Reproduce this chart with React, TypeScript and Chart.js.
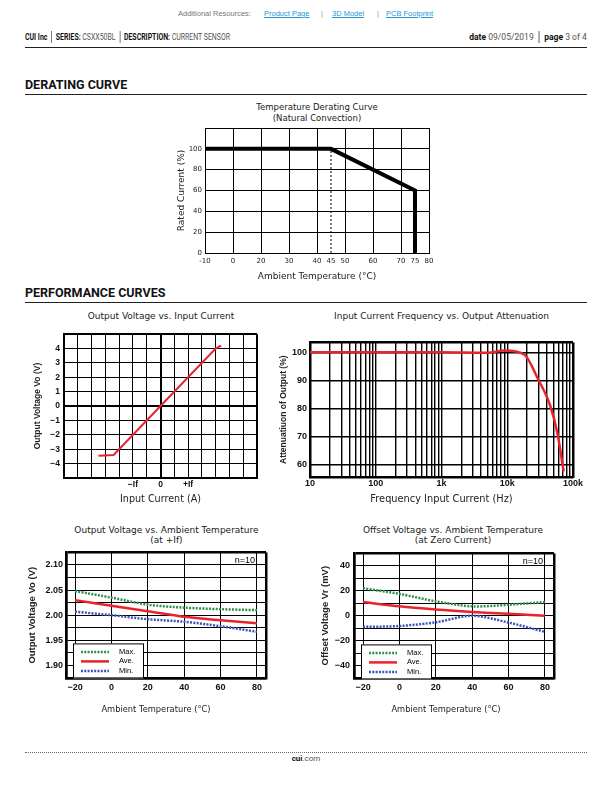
import React, { useEffect, useRef } from 'react';
import { Chart, registerables } from 'chart.js';

Chart.register(...registerables);

// ---------------- data ----------------
// Temperature derating curve
const DERATING_TEMP = [-10, 45, 75, 75];
const DERATING_CURRENT = [100, 100, 60, 0];
const DERATING_KNEE_TEMP = [45, 45];
const DERATING_KNEE_CURRENT = [0, 100];
const DERATING_GRID_X = [-10, 0, 20, 30, 40, 50, 60, 70, 80];
const DERATING_TICKS_X = [-10, 0, 20, 30, 40, 45, 50, 60, 70, 75, 80];
const DERATING_TICKS_Y = [0, 20, 40, 60, 80, 100, 120];

// Output voltage vs input current (x in grid units, If = 2)
const IC_CURRENT = [-4.5, -3.4, 0, 4.0, 4.4];
const IC_VOLTAGE = [-3.45, -3.4, 0, 4.0, 4.2];
const IC_TICKS_X = [-7, -6, -5, -4, -3, -2, -1, 0, 1, 2, 3, 4, 5, 6, 7];
const IC_TICKS_Y = [-5, -4, -3, -2, -1, 0, 1, 2, 3, 4, 5];
const IC_LABELS_X: Record<string, string> = { '-2': '\u2212If', '0': '0', '2': '+If' };

// Input current frequency vs output attenuation
const FREQ_HZ = [10, 100, 1000, 5000, 9000, 18000, 30000, 45000, 58000, 72000];
const ATTEN_PCT = [100, 100, 100, 99.8, 100.6, 99.2, 90, 81, 71, 57.5];
const FREQ_DECADES = [10, 100, 1000, 10000];
const FREQ_MULT = [1, 2, 3, 4, 5, 6, 7, 8, 9];
const FREQ_LABELS: Record<string, string> = { '10': '10', '100': '100', '1000': '1k', '10000': '10k', '100000': '100k' };
const ATTEN_TICKS = [55.5, 60, 70, 80, 90, 100, 103.5];

// Output voltage / offset voltage vs ambient temperature
const TEMP_C = [-20, 0, 20, 40, 60, 80];
const VO_MAX = [2.048, 2.035, 2.021, 2.015, 2.012, 2.010];
const VO_AVE = [2.030, 2.019, 2.008, 1.997, 1.990, 1.984];
const VO_MIN = [2.007, 2.000, 1.992, 1.987, 1.978, 1.967];
const VR_MAX = [22, 17.5, 11.5, 7.5, 8.8, 11];
const VR_AVE = [11, 7.5, 5, 3, 1.5, 0];
const VR_MIN = [-9, -8.3, -5.3, 0, -5.5, -13];
const TEMP_TICKS = [-25, -20, 0, 20, 40, 60, 80, 85];
const VO_TICKS = [1.875, 1.9, 1.925, 1.95, 1.975, 2.0, 2.025, 2.05, 2.075, 2.1, 2.125];
const VO_LABELS = [1.9, 1.95, 2.0, 2.05, 2.1];
const VR_TICKS = [-50, -40, -30, -20, -10, 0, 10, 20, 30, 40, 50];
const VR_LABELS = [-40, -20, 0, 20, 40];
const SERIES_NAMES = ['Max.', 'Ave.', 'Min.'];

// ---------------- styles ----------------
const FONT_V = '"DejaVu Sans", Verdana, sans-serif';
const FONT_A = '"Liberation Sans", Arial, Helvetica, sans-serif';
const FONT_H = 'Roboto, "Liberation Sans", sans-serif';
const RED = '#e8232b';
const GREEN = '#2f8f48';
const BLUE = '#3a55b8';

type Rect = { l: number; t: number; r: number; b: number };
type Box = { x: number; y: number; w: number; h: number };

const fmtMinus = (v: number) => (v < 0 ? '\u2212' + Math.abs(v) : String(v));

function frame(p: Rect, c: Box) {
  return {
    padding: { top: p.t - c.y, right: c.x + c.w - p.r, left: 0, bottom: 0 },
    yW: p.l - c.x,
    xH: c.y + c.h - p.b,
  };
}

const setTicks = (values: number[]) => (s: any) => {
  s.ticks = values.map((value) => ({ value }));
};

function segmentPixel(scale: any, grid: number[], v: number) {
  const n = grid.length - 1;
  let i = 0;
  while (i < n - 1 && v > grid[i + 1]) i++;
  const u = i + (v - grid[i]) / (grid[i + 1] - grid[i]);
  return scale.left + (u / n) * scale.width;
}

function baseOptions(padding: any) {
  return {
    responsive: false,
    animation: false,
    events: [],
    layout: { padding },
    plugins: { legend: { display: false }, title: { display: false }, tooltip: { enabled: false } },
  };
}

const pts = (xs: number[], ys: number[]) => xs.map((x, i) => ({ x, y: ys[i] }));

// ---------------- chart 1: derating ----------------
const P1: Rect = { l: 205, t: 128, r: 429, b: 253 };
const C1: Box = { x: 176, y: 118, w: 270, h: 164 };

function deratingConfig(): any {
  const f = frame(P1, C1);
  return {
    type: 'line',
    data: {
      datasets: [
        { data: pts(DERATING_TEMP, DERATING_CURRENT), borderColor: '#000', borderWidth: 4, pointRadius: 0, borderJoinStyle: 'miter', borderCapStyle: 'butt' },
        { data: pts(DERATING_KNEE_TEMP, DERATING_KNEE_CURRENT), borderColor: '#000', borderWidth: 1, borderDash: [2, 2], pointRadius: 0 },
      ],
    },
    options: {
      ...baseOptions(f.padding),
      scales: {
        x: {
          type: 'linear', min: -10, max: 80,
          afterBuildTicks: (s: any) => {
            setTicks(DERATING_TICKS_X)(s);
            s.getPixelForValue = (v: number) => segmentPixel(s, DERATING_GRID_X, v);
          },
          afterFit: (s: any) => { s.height = f.xH; },
          grid: { drawTicks: false, lineWidth: 1, color: (c: any) => (c.tick && DERATING_GRID_X.includes(c.tick.value) ? '#000' : 'rgba(0,0,0,0)') },
          border: { color: '#000', width: 1 },
          ticks: { autoSkip: false, maxRotation: 0, padding: 4, color: '#222', font: { family: FONT_V, size: 7 }, callback: (v: number) => String(v) },
          title: { display: true, text: 'Ambient Temperature (\u00b0C)', padding: 0, color: '#222', font: { family: FONT_V, size: 9 } },
        },
        y: {
          type: 'linear', min: 0, max: 120,
          afterBuildTicks: setTicks(DERATING_TICKS_Y),
          afterFit: (s: any) => { s.width = f.yW; },
          grid: { drawTicks: false, color: '#000', lineWidth: 1 },
          border: { color: '#000', width: 1 },
          ticks: { autoSkip: false, padding: 3, color: '#222', font: { family: FONT_V, size: 7 }, callback: (v: number) => (v === 120 ? '' : String(v)) },
          title: { display: true, text: 'Rated Current (%)', padding: 0, color: '#222', font: { family: FONT_V, size: 9 } },
        },
      },
    },
  };
}

// ---------------- chart 2: Vo vs input current ----------------
const P2: Rect = { l: 64, t: 333, r: 257, b: 478 };
const C2: Box = { x: 33, y: 325, w: 240, h: 180 };

function currentConfig(): any {
  const f = frame(P2, C2);
  const thick = (edges: number[]) => (c: any) => (c.tick && edges.includes(c.tick.value) ? 2 : 1);
  return {
    type: 'line',
    data: { datasets: [{ data: pts(IC_CURRENT, IC_VOLTAGE), borderColor: RED, borderWidth: 2, pointRadius: 0 }] },
    options: {
      ...baseOptions(f.padding),
      scales: {
        x: {
          type: 'linear', min: -7, max: 7,
          afterBuildTicks: setTicks(IC_TICKS_X),
          afterFit: (s: any) => { s.height = f.xH; },
          grid: { drawTicks: false, color: '#000', lineWidth: thick([-7, 0, 7]) },
          border: { color: '#000', width: 2 },
          ticks: { autoSkip: false, maxRotation: 0, padding: 2, color: '#111', font: { family: FONT_A, size: 8.5, weight: 'bold' }, callback: (v: number) => IC_LABELS_X[String(v)] ?? '' },
          title: { display: true, text: 'Input Current (A)', padding: 0, color: '#222', font: { family: FONT_V, size: 9.6 } },
        },
        y: {
          type: 'linear', min: -5, max: 5,
          afterBuildTicks: setTicks(IC_TICKS_Y),
          afterFit: (s: any) => { s.width = f.yW; },
          grid: { drawTicks: false, color: '#000', lineWidth: thick([-5, 0, 5]) },
          border: { color: '#000', width: 2 },
          ticks: { autoSkip: false, padding: 4, color: '#111', font: { family: FONT_A, size: 8.5, weight: 'bold' }, callback: (v: number) => (Math.abs(v) === 5 ? '' : fmtMinus(v)) },
          title: { display: true, text: 'Output Voltage Vo (V)', padding: 0, color: '#222', font: { family: FONT_A, size: 8.5, weight: 'bold' } },
        },
      },
    },
  };
}

// ---------------- chart 3: frequency ----------------
const P3: Rect = { l: 310, t: 342, r: 573, b: 477 };
const C3: Box = { x: 279, y: 334, w: 321, h: 171 };

function frequencyConfig(): any {
  const f = frame(P3, C3);
  const freqGrid = FREQ_DECADES.flatMap((d) => FREQ_MULT.map((m) => m * d)).concat([100000]);
  return {
    type: 'line',
    data: { datasets: [{ data: pts(FREQ_HZ, ATTEN_PCT), borderColor: RED, borderWidth: 2.5, pointRadius: 0, cubicInterpolationMode: 'monotone' }] },
    options: {
      ...baseOptions(f.padding),
      scales: {
        x: {
          type: 'logarithmic', min: 10, max: 100000,
          afterBuildTicks: setTicks(freqGrid),
          afterFit: (s: any) => { s.height = f.xH; },
          grid: { drawTicks: false, color: '#000', lineWidth: (c: any) => (c.tick && (c.tick.value === 10 || c.tick.value === 100000) ? 2.5 : 1.4) },
          border: { color: '#000', width: 2 },
          ticks: { autoSkip: false, maxRotation: 0, padding: 1, color: '#111', font: { family: FONT_A, size: 9, weight: 'bold' }, callback: (v: number) => FREQ_LABELS[String(v)] ?? '' },
          title: { display: true, text: 'Frequency Input Current (Hz)', padding: 0, color: '#222', font: { family: FONT_V, size: 9.8 } },
        },
        y: {
          type: 'linear', min: 55.5, max: 103.5,
          afterBuildTicks: setTicks(ATTEN_TICKS),
          afterFit: (s: any) => { s.width = f.yW; },
          grid: { drawTicks: false, color: '#000', lineWidth: (c: any) => (c.tick && (c.tick.value === 103.5 || c.tick.value === 55.5) ? 2.5 : 1.4) },
          border: { color: '#000', width: 2 },
          ticks: { autoSkip: false, padding: 3, color: '#111', font: { family: FONT_A, size: 9, weight: 'bold' }, callback: (v: number) => (v % 10 === 0 ? String(v) : '') },
          title: { display: true, text: 'Attenuatiuon of Output (%)', padding: 0, color: '#222', font: { family: FONT_A, size: 8.5, weight: 'bold' } },
        },
      },
    },
  };
}

// ---------------- charts 4/5: temperature ----------------
const legendPlugin = {
  id: 'boxLegend',
  afterDatasetsDraw(chart: any) {
    const { ctx, chartArea: a } = chart;
    const x = a.left + 7;
    const y = a.top + 91;
    const w = 71;
    const h = 35;
    ctx.save();
    ctx.fillStyle = '#fff';
    ctx.fillRect(x, y, w, h);
    ctx.strokeStyle = '#000';
    ctx.lineWidth = 1;
    ctx.setLineDash([]);
    ctx.strokeRect(x + 0.5, y + 0.5, w - 1, h - 1);
    chart.data.datasets.forEach((ds: any, i: number) => {
      const ly = y + 8.5 + i * 9.5;
      ctx.beginPath();
      ctx.setLineDash(ds.borderDash || []);
      ctx.strokeStyle = ds.borderColor;
      ctx.lineWidth = ds.borderWidth;
      ctx.moveTo(x + 8, ly);
      ctx.lineTo(x + 36, ly);
      ctx.stroke();
      ctx.setLineDash([]);
      ctx.fillStyle = '#000';
      ctx.font = '7.5px ' + FONT_A;
      ctx.textAlign = 'left';
      ctx.textBaseline = 'middle';
      ctx.fillText(ds.label, x + 46, ly);
    });
    ctx.font = '9px ' + FONT_A;
    ctx.textAlign = 'right';
    ctx.textBaseline = 'middle';
    ctx.fillStyle = '#000';
    ctx.fillText('n=10', a.right - 11, a.top + 8.5);
    ctx.restore();
  },
};

function tempConfig(p: Rect, c: Box, maxV: number[], aveV: number[], minV: number[], yTicks: number[], yLabels: number[], yFmt: (v: number) => string, yTitle: string, yPad: number): any {
  const f = frame(p, c);
  const dotted = { borderWidth: 2.5, borderDash: [2, 1.3], pointRadius: 0, tension: 0.3 };
  const xEdges = [TEMP_TICKS[0], TEMP_TICKS[TEMP_TICKS.length - 1]];
  const yEdges = [yTicks[0], yTicks[yTicks.length - 1]];
  return {
    type: 'line',
    data: {
      datasets: [
        { label: SERIES_NAMES[0], data: pts(TEMP_C, maxV), borderColor: GREEN, ...dotted },
        { label: SERIES_NAMES[1], data: pts(TEMP_C, aveV), borderColor: RED, borderWidth: 2.5, pointRadius: 0, tension: 0.3 },
        { label: SERIES_NAMES[2], data: pts(TEMP_C, minV), borderColor: BLUE, ...dotted },
      ],
    },
    plugins: [legendPlugin],
    options: {
      ...baseOptions(f.padding),
      scales: {
        x: {
          type: 'linear', min: xEdges[0], max: xEdges[1],
          afterBuildTicks: setTicks(TEMP_TICKS),
          afterFit: (s: any) => { s.height = f.xH; },
          grid: { drawTicks: false, color: '#000', lineWidth: (cx: any) => (cx.tick && xEdges.includes(cx.tick.value) ? 2.5 : 1) },
          border: { color: '#000', width: 2.5 },
          ticks: { autoSkip: false, maxRotation: 0, padding: 4, color: '#111', font: { family: FONT_A, size: 9, weight: 'bold' }, callback: (v: number) => (xEdges.includes(v) ? '' : fmtMinus(v)) },
          title: { display: false },
        },
        y: {
          type: 'linear', min: yEdges[0], max: yEdges[1],
          afterBuildTicks: setTicks(yTicks),
          afterFit: (s: any) => { s.width = f.yW; },
          grid: { drawTicks: false, color: '#000', lineWidth: (cx: any) => (cx.tick && yEdges.includes(cx.tick.value) ? 2.5 : 1) },
          border: { color: '#000', width: 2.5 },
          ticks: { autoSkip: false, padding: yPad, color: '#111', font: { family: FONT_A, size: 9, weight: 'bold' }, callback: (v: number) => (yLabels.some((l) => Math.abs(l - v) < 1e-6) ? yFmt(v) : '') },
          title: { display: true, text: yTitle, padding: 0, color: '#222', font: { family: FONT_A, size: 9.5, weight: 'bold' } },
        },
      },
    },
  };
}

const P4: Rect = { l: 66, t: 552, r: 266, b: 678 };
const C4: Box = { x: 27, y: 544, w: 258, h: 170 };
const P5: Rect = { l: 354, t: 552, r: 554, b: 678 };
const C5: Box = { x: 320, y: 544, w: 255, h: 170 };

// ---------------- components ----------------
function ChartCanvas({ box, make }: { box: Box; make: () => any }) {
  const ref = useRef<HTMLCanvasElement | null>(null);
  useEffect(() => {
    const chart = new Chart(ref.current as HTMLCanvasElement, make());
    return () => chart.destroy();
  }, []);
  return (
    <canvas
      ref={ref}
      width={box.w}
      height={box.h}
      style={{ position: 'absolute', left: box.x, top: box.y, width: box.w, height: box.h }}
    />
  );
}

function CenterText({ cx, cy, text, size = 9, font = FONT_V, color = '#222' }: any) {
  return (
    <div
      style={{
        position: 'absolute', left: cx - 200, width: 400, top: cy - size * 0.65, lineHeight: size * 1.3 + 'px',
        fontSize: size, fontFamily: font, color, textAlign: 'center', whiteSpace: 'nowrap',
      }}
    >
      {text}
    </div>
  );
}

function Sep() {
  return <span style={{ display: 'inline-block', width: 1, height: 12, background: '#555', margin: '0 5px', verticalAlign: 'middle' }} />;
}

export default function App() {
  const link = { position: 'absolute' as const, top: 9, color: '#1f9ad6', textDecoration: 'underline', fontSize: 7.5, lineHeight: '10px', fontFamily: FONT_A };
  return (
    <div style={{ position: 'absolute', left: 0, top: 0, width: 612, height: 792, background: '#fff', overflow: 'hidden' }}>
      {/* resources line */}
      <div style={{ ...link, left: 178, color: '#777', textDecoration: 'none' }}>Additional Resources:</div>
      <div style={{ ...link, left: 264 }}>Product Page</div>
      <div style={{ ...link, left: 321, color: '#999', textDecoration: 'none' }}>|</div>
      <div style={{ ...link, left: 332 }}>3D Model</div>
      <div style={{ ...link, left: 377, color: '#999', textDecoration: 'none' }}>|</div>
      <div style={{ ...link, left: 386 }}>PCB Footprint</div>

      {/* header line */}
      <div style={{ position: 'absolute', left: 25, top: 31, height: 12, display: 'flex', alignItems: 'center', whiteSpace: 'nowrap', fontFamily: FONT_H, fontSize: 9, color: '#555', transform: 'scaleX(0.77)', transformOrigin: 'left center' }}>
        <b style={{ color: '#111' }}>CUI Inc</b>
        <Sep />
        <b style={{ color: '#111' }}>SERIES:</b>&nbsp;CSXX50BL
        <Sep />
        <b style={{ color: '#111' }}>DESCRIPTION:</b>&nbsp;CURRENT SENSOR
      </div>
      <div style={{ position: 'absolute', right: 25, top: 31, height: 12, display: 'flex', alignItems: 'center', whiteSpace: 'nowrap', fontFamily: FONT_H, fontSize: 9, color: '#555', transform: 'scaleX(0.95)', transformOrigin: 'right center' }}>
        <b style={{ color: '#111' }}>date</b>&nbsp;09/05/2019
        <Sep />
        <b style={{ color: '#111' }}>page</b>&nbsp;3 of 4
      </div>
      <div style={{ position: 'absolute', left: 25, top: 46.5, width: 562, height: 1.5, background: '#222' }} />

      {/* section headings */}
      <div style={{ position: 'absolute', left: 25, top: 77, lineHeight: '16px', fontFamily: FONT_H, fontWeight: 700, fontSize: 12.5, color: '#111' }}>DERATING CURVE</div>
      <div style={{ position: 'absolute', left: 25, top: 94, width: 562, height: 1, background: '#222' }} />
      <div style={{ position: 'absolute', left: 25, top: 285, lineHeight: '16px', fontFamily: FONT_H, fontWeight: 700, fontSize: 12.5, color: '#111' }}>PERFORMANCE CURVES</div>
      <div style={{ position: 'absolute', left: 25, top: 302, width: 562, height: 1, background: '#222' }} />

      {/* chart titles */}
      <CenterText cx={317} cy={107.7} size={8.5} text="Temperature Derating Curve" />
      <CenterText cx={317} cy={118.3} size={8.5} text="(Natural Convection)" />
      <CenterText cx={161} cy={316.7} text="Output Voltage vs. Input Current" />
      <CenterText cx={441.5} cy={316.7} text="Input Current Frequency vs. Output Attenuation" />
      <CenterText cx={166.5} cy={530.7} text="Output Voltage vs. Ambient Temperature" />
      <CenterText cx={166.5} cy={541.3} text="(at +If)" />
      <CenterText cx={453} cy={530.7} text="Offset Voltage vs. Ambient Temperature" />
      <CenterText cx={453} cy={541.3} text="(at Zero Current)" />

      <ChartCanvas box={C1} make={deratingConfig} />
      <ChartCanvas box={C2} make={currentConfig} />
      <ChartCanvas box={C3} make={frequencyConfig} />
      <ChartCanvas box={C4} make={() => tempConfig(P4, C4, VO_MAX, VO_AVE, VO_MIN, VO_TICKS, VO_LABELS, (v) => v.toFixed(2), 'Output Voltage Vo (V)', 3)} />
      <ChartCanvas box={C5} make={() => tempConfig(P5, C5, VR_MAX, VR_AVE, VR_MIN, VR_TICKS, VR_LABELS, fmtMinus, 'Offset Voltage Vr (mV)', 4)} />

      {/* x-axis titles of the temperature charts */}
      <CenterText cx={156} cy={709} size={8.3} text={'Ambient Temperature (\u00b0C)'} />
      <CenterText cx={446} cy={709} size={8.3} text={'Ambient Temperature (\u00b0C)'} />

      {/* footer */}
      <div style={{ position: 'absolute', left: 25, top: 752, width: 562, height: 0, borderTop: '1px dotted #666' }} />
      <div style={{ position: 'absolute', left: 0, width: 612, top: 754, lineHeight: '10px', textAlign: 'center', fontFamily: FONT_H, fontSize: 8, color: '#555' }}>
        <b style={{ color: '#111' }}>cui</b>.com
      </div>
    </div>
  );
}
